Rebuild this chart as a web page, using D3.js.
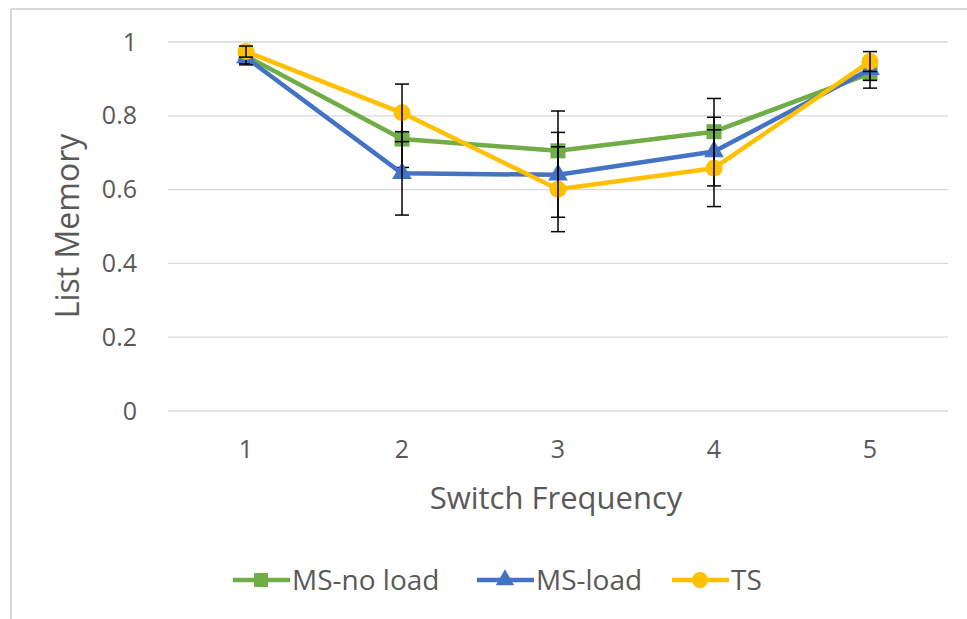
<!DOCTYPE html>
<html>
<head>
<meta charset="utf-8">
<script src="https://cdn.jsdelivr.net/npm/d3@7"></script>
<style>
  html, body { margin: 0; padding: 0; background: #fff; }
  svg { display: block; }
  text { font-family: "Open Sans", "Noto Sans", sans-serif; fill: #595959; }
</style>
</head>
<body>
<svg id="chart" width="967" height="619"></svg>
<script>
const categories = ["1", "2", "3", "4", "5"];
const yTicks = [0, 0.2, 0.4, 0.6, 0.8, 1];
const seriesNames = ["MS-no load", "MS-load", "TS"];
const msNoLoad = [0.962, 0.737, 0.705, 0.757, 0.915];
const msNoLoadErr = [0.02, 0.077, 0.108, 0.09, 0.04];
const msLoad = [0.958, 0.644, 0.640, 0.703, 0.926];
const msLoadErr = [0.02, 0.113, 0.115, 0.093, 0.03];
const ts = [0.974, 0.808, 0.601, 0.658, 0.947];
const tsErr = [0.015, 0.078, 0.115, 0.104, 0.027];
const colors = ["#70ad47", "#4472c4", "#ffc000"];
const markers = ["square", "triangle", "circle"];

const series = [
  { name: seriesNames[0], values: msNoLoad, err: msNoLoadErr, color: colors[0], marker: markers[0] },
  { name: seriesNames[1], values: msLoad, err: msLoadErr, color: colors[1], marker: markers[1] },
  { name: seriesNames[2], values: ts, err: tsErr, color: colors[2], marker: markers[2] }
];

const svg = d3.select("#chart");

// outer frame (partially visible)
svg.append("line").attr("x1", 11).attr("x2", 967).attr("y1", 9).attr("y2", 9)
  .attr("stroke", "#d9d9d9").attr("stroke-width", 2);
svg.append("line").attr("x1", 11).attr("x2", 11).attr("y1", 9).attr("y2", 619)
  .attr("stroke", "#d9d9d9").attr("stroke-width", 2);

const plot = { left: 168, right: 948, top: 42, bottom: 411 };

const x = d3.scaleBand().domain(categories).range([plot.left, plot.right]);
const y = d3.scaleLinear().domain([0, 1]).range([plot.bottom, plot.top]);

// gridlines
svg.append("g").selectAll("line").data(yTicks).join("line")
  .attr("x1", plot.left).attr("x2", plot.right)
  .attr("y1", d => y(d)).attr("y2", d => y(d))
  .attr("stroke", "#d9d9d9").attr("stroke-width", 1.3);

// y axis
const yAxis = svg.append("g").attr("transform", `translate(${plot.left},0)`)
  .call(d3.axisLeft(y).tickValues(yTicks).tickFormat(d => d3.format("")(d)).tickSize(0).tickPadding(31));
yAxis.select(".domain").remove();
yAxis.selectAll("text").style("font-size", "25px").attr("fill", "#595959");

// x axis
const xAxis = svg.append("g").attr("transform", `translate(0,${plot.bottom})`)
  .call(d3.axisBottom(x).tickSize(0).tickPadding(29));
xAxis.select(".domain").remove();
xAxis.selectAll("text").style("font-size", "25px").attr("fill", "#595959");

// axis titles
svg.append("text").attr("x", 556).attr("y", 509)
  .attr("text-anchor", "middle").style("font-size", "31px").text("Switch Frequency");
svg.append("text").attr("transform", "translate(79,226) rotate(-90)")
  .attr("text-anchor", "middle").style("font-size", "32px").text("List Memory");

const cx = (d, i) => x(categories[i]) + x.bandwidth() / 2;

function drawMarker(g, type, color, size) {
  if (type === "square") {
    g.append("rect").attr("x", -size / 2).attr("y", -size / 2).attr("width", size).attr("height", size).attr("fill", color);
  } else if (type === "triangle") {
    g.append("path").attr("d", d3.symbol().type(d3.symbolTriangle).size(size * size * 0.75)()).attr("fill", color);
  } else {
    g.append("circle").attr("r", size / 2 + 1).attr("fill", color);
  }
}

const line = d3.line().x((d, i) => cx(d, i)).y(d => y(d));

series.forEach(s => {
  const g = svg.append("g");
  g.append("path").datum(s.values).attr("d", line)
    .attr("fill", "none").attr("stroke", s.color).attr("stroke-width", 4.5).attr("stroke-linejoin", "round");
  s.values.forEach((v, i) => {
    const m = g.append("g").attr("transform", `translate(${cx(v, i)},${y(v)})`);
    drawMarker(m, s.marker, s.color, 15);
  });
  // error bars
  const eb = g.append("g").attr("stroke", "#000").attr("stroke-width", 1.5);
  s.values.forEach((v, i) => {
    const px = cx(v, i);
    const y1 = y(v + s.err[i]), y2 = y(v - s.err[i]);
    eb.append("line").attr("x1", px).attr("x2", px).attr("y1", y1).attr("y2", y2);
    eb.append("line").attr("x1", px - 7).attr("x2", px + 7).attr("y1", y1).attr("y2", y1);
    eb.append("line").attr("x1", px - 7).attr("x2", px + 7).attr("y1", y2).attr("y2", y2);
  });
});

// legend
const legendX = [233, 477, 672];
series.forEach((s, i) => {
  const g = svg.append("g").attr("transform", `translate(${legendX[i]},580)`);
  g.append("line").attr("x1", 0).attr("x2", 57).attr("y1", 0).attr("y2", 0)
    .attr("stroke", s.color).attr("stroke-width", 4.5);
  const m = g.append("g").attr("transform", "translate(28,0)");
  drawMarker(m, s.marker, s.color, 14);
  g.append("text").attr("x", 59).attr("y", 0).attr("dy", "0.35em").style("font-size", "28px").text(s.name);
});
</script>
</body>
</html>
